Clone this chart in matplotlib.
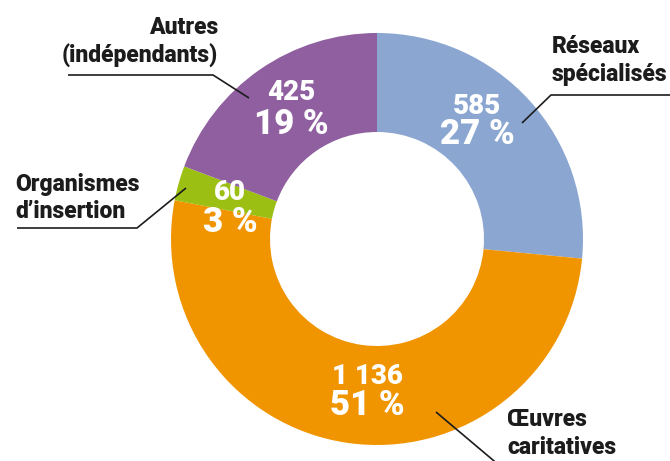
import matplotlib
matplotlib.use("Agg")
import matplotlib.pyplot as plt

# ---- data ----
categories = ["Réseaux\nspécialisés", "Œuvres\ncaritatives", "Organismes\nd\u2019insertion", "Autres\n(indépendants)"]
values = [585, 1136, 60, 425]
value_labels = ["585", "1 136", "60", "425"]
pct_labels = ["27 %", "51 %", "3 %", "19 %"]
colors = ["#8ba7d1", "#f09500", "#9cbf14", "#8f5fa0"]

# ---- layout (image pixel coordinates, y downwards) ----
W, H = 670, 461
center = (377, 239)
r_out, r_in = 206, 107
inner_label_pos = [(477, 106, 134), (367, 376, 405), (230, 193, 222), (291, 93, 124)]
cat_text = [  # x, y of first line center, ha
    (552, 47, "left"), (507, 419, "left"), (15, 184, "left"), (218, 28, "right")]
leaders = [
    [(522, 123), (551, 95), (670, 95)],
    [(436, 412), (500, 466)],
    [(186, 188), (137, 228), (17, 228)],
    [(249, 98), (213, 75), (68, 75)],
]

fig = plt.figure(figsize=(W / 100, H / 100), dpi=100)
ax = fig.add_axes([0, 0, 1, 1])

def Y(y):
    return H - y

ax.pie(values, colors=colors, startangle=90, counterclock=False,
       center=(center[0], Y(center[1])), radius=r_out,
       wedgeprops=dict(width=r_out - r_in, linewidth=0), frame=True)
ax.set_xlim(0, W)
ax.set_ylim(0, H)
ax.set_aspect("equal")
ax.axis("off")

font = "Roboto"
for (x, y1, y2), v, p in zip(inner_label_pos, value_labels, pct_labels):
    ax.text(x, Y(y1), v, ha="center", va="center", color="white",
            fontsize=20, fontweight="black", family=font)
    ax.text(x, Y(y2), p, ha="center", va="center", color="white",
            fontsize=25, fontweight="black", family=font)

for (x, y, ha), cat in zip(cat_text, categories):
    for i, line in enumerate(cat.split("\n")):
        ax.text(x, Y(y + i * 28), line, ha=ha, va="center", color="#1c1c1c",
                fontsize=16.5, fontweight="black", family=font)

for pts in leaders:
    xs = [p[0] for p in pts]
    ys = [Y(p[1]) for p in pts]
    ax.plot(xs, ys, color="#1c1c1c", lw=1.2, solid_capstyle="butt", clip_on=False)

fig.savefig("out.png", dpi=100)
